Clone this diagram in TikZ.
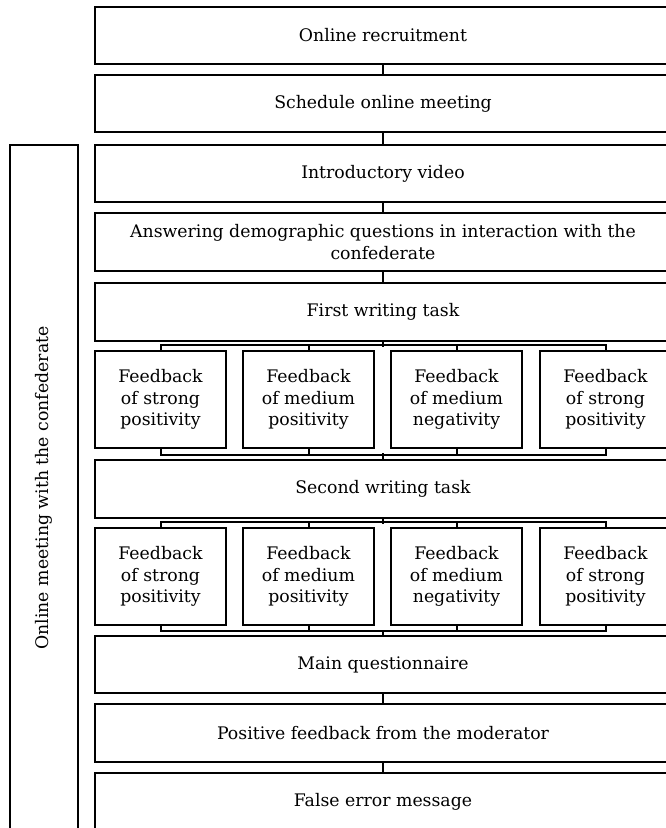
\documentclass[tikz,border=0pt]{standalone}
\usepackage{fontspec}
\setmainfont{DejaVu Serif}
\begin{document}
\begin{tikzpicture}[x=1pt,y=-1pt,
  txt/.style={font=\fontsize{17.3}{21.5}\selectfont},
  mainbox/.style={draw, line width=1.3pt, minimum width=576pt, minimum height=57pt, align=center, inner sep=0pt, txt},
  fbbox/.style={draw, line width=1.3pt, minimum width=131pt, minimum height=97pt, align=center, inner sep=0pt, txt},
  conn/.style={line width=2pt}]
\clip (0,0) rectangle (666,828);
\useasboundingbox (0,0) rectangle (666,828);
\node[mainbox] (b1) at (383,35.5) {Online recruitment};
\node[mainbox] (b2) at (383,103.5) {Schedule online meeting};
\node[mainbox] (b3) at (383,173.5) {Introductory video};
\node[mainbox, minimum height=58pt] (b4) at (383,242) {Answering demographic questions in interaction with the\\confederate};
\node[mainbox, minimum height=58pt] (b5) at (383,312) {First writing task};
\node[fbbox] (fa1) at (160.5,399.5) {Feedback\\of strong\\positivity};
\node[fbbox] (fb1) at (308.5,399.5) {Feedback\\of medium\\positivity};
\node[fbbox] (fc1) at (456.5,399.5) {Feedback\\of medium\\negativity};
\node[fbbox] (fd1) at (605.5,399.5) {Feedback\\of strong\\positivity};
\node[mainbox, minimum height=58pt] (b6) at (383,489) {Second writing task};
\node[fbbox] (fa2) at (160.5,576.5) {Feedback\\of strong\\positivity};
\node[fbbox] (fb2) at (308.5,576.5) {Feedback\\of medium\\positivity};
\node[fbbox] (fc2) at (456.5,576.5) {Feedback\\of medium\\negativity};
\node[fbbox] (fd2) at (605.5,576.5) {Feedback\\of strong\\positivity};
\node[mainbox] (b7) at (383,664.5) {Main questionnaire};
\node[mainbox, minimum height=58pt] (b8) at (383,733) {Positive feedback from the moderator};
\node[mainbox] (b9) at (383,801.5) {False error message};
\node[draw, line width=1.3pt, minimum width=68pt, minimum height=686pt, inner sep=0pt] (side) at (44,488) {};
\node[rotate=90, txt] (sidelabel) at (side.center) {Online meeting with the confederate};
\draw[conn] (b1.south) -- (b2.north);
\draw[conn] (b2.south) -- (b3.north);
\draw[conn] (b3.south) -- (b4.north);
\draw[conn] (b4.south) -- (b5.north);
\draw[conn] (b5.south) -- ++(0,5);
\draw[conn] (fa1.north) -- ++(0,-5) -| (fd1.north);
\draw[conn] (fb1.north) -- ++(0,-5);
\draw[conn] (fc1.north) -- ++(0,-5);
\draw[conn] (b6.north) -- ++(0,-6);
\draw[conn] (fa1.south) -- ++(0,6) -| (fd1.south);
\draw[conn] (fb1.south) -- ++(0,6);
\draw[conn] (fc1.south) -- ++(0,6);
\draw[conn] (b6.south) -- ++(0,5);
\draw[conn] (fa2.north) -- ++(0,-5) -| (fd2.north);
\draw[conn] (fb2.north) -- ++(0,-5);
\draw[conn] (fc2.north) -- ++(0,-5);
\draw[conn] (b7.north) -- ++(0,-5.5);
\draw[conn] (fa2.south) -- ++(0,5.5) -| (fd2.south);
\draw[conn] (fb2.south) -- ++(0,5.5);
\draw[conn] (fc2.south) -- ++(0,5.5);
\draw[conn] (b7.south) -- (b8.north);
\draw[conn] (b8.south) -- (b9.north);
\end{tikzpicture}
\end{document}
